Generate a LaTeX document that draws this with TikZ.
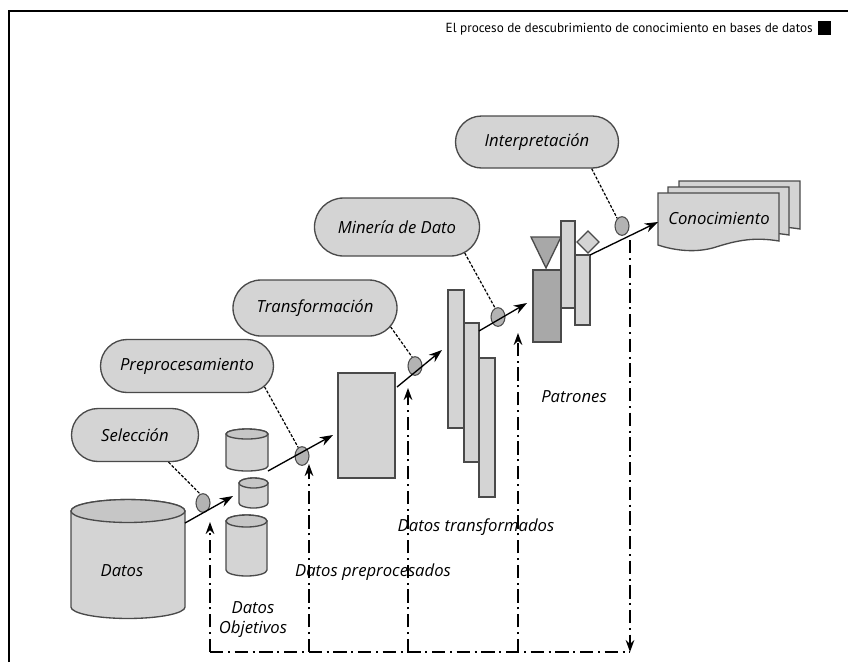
\documentclass[tikz,border=0pt]{standalone}
\usepackage{fontspec}
\setmainfont{Open Sans}
\newfontfamily\headfont{PT Sans}
\usetikzlibrary{arrows.meta,shapes.misc,shapes.geometric,fit}
\definecolor{lightfill}{HTML}{D4D4D4}
\definecolor{topfill}{HTML}{C6C6C6}
\definecolor{midfill}{HTML}{B3B3B3}
\definecolor{darkfill}{HTML}{A8A8A8}
\definecolor{edge}{HTML}{4A4A4A}
\tikzset{
  stage/.style={rounded rectangle, draw=edge, fill=lightfill, line width=1pt,
    font=\itshape\fontsize{12.5}{14}\selectfont, inner sep=0pt},
  probe/.style={ellipse, draw=edge, fill=midfill, line width=0.8pt,
    minimum width=10.5pt, minimum height=14pt, inner sep=0pt},
  block/.style={draw=edge, fill=lightfill, line width=1pt, inner sep=0pt},
  darkblock/.style={block, fill=darkfill},
  flow/.style={-{Stealth[length=10pt,width=7pt]}, line width=1pt, black},
  link/.style={dash pattern=on 2.2pt off 1.2pt, line width=0.9pt, black},
  loopline/.style={line width=1pt, dash pattern=on 10pt off 3.5pt on 1.5pt off 3.5pt},
  loopup/.style={loopline, -{Stealth[length=9pt,width=6.5pt]}},
  caption/.style={font=\itshape\fontsize{12.5}{15}\selectfont, inner sep=0pt},
}
\begin{document}
\begin{tikzpicture}[x=0.75pt,y=-0.75pt]
\useasboundingbox (0,0) rectangle (848,662);

% page frame and running head
\draw[line width=1pt] (9,662) -- (9,11) -- (848,11);
\node[anchor=base east, font=\headfont\fontsize{9.9}{12}\selectfont, inner sep=0pt] (title) at (813,32)
  {El proceso de descubrimiento de conocimiento en bases de datos};
\node[fill=black, minimum width=9.75pt, minimum height=10.5pt, inner sep=0pt, anchor=south west] (mark) at (818,35) {};

% source database
\draw[block] (71,511) -- (71,607) arc[start angle=180,end angle=360,x radius=42.75pt,y radius=8.6pt]
  -- (185,511) arc[start angle=0,end angle=180,x radius=42.75pt,y radius=8.6pt] -- cycle;
\draw[block, fill=topfill] (128,511) ellipse[x radius=42.75pt, y radius=8.6pt];
\node[caption] (datos) at (122,571) {Datos};

% target data drums
\draw[block] (226,434) -- (226,466) arc[start angle=180,end angle=360,x radius=15.75pt,y radius=3.75pt]
  -- (268,434) arc[start angle=0,end angle=180,x radius=15.75pt,y radius=3.75pt] -- cycle;
\draw[block, fill=topfill] (247,434) ellipse[x radius=15.75pt, y radius=3.75pt];
\draw[block] (239,483) -- (239,503) arc[start angle=180,end angle=360,x radius=10.875pt,y radius=3.75pt]
  -- (268,483) arc[start angle=0,end angle=180,x radius=10.875pt,y radius=3.75pt] -- cycle;
\draw[block, fill=topfill] (253.5,483) ellipse[x radius=10.875pt, y radius=3.75pt];
\draw[block] (226,521) -- (226,570) arc[start angle=180,end angle=360,x radius=15.375pt,y radius=4.5pt]
  -- (267,521) arc[start angle=0,end angle=180,x radius=15.375pt,y radius=4.5pt] -- cycle;
\draw[block, fill=topfill] (246.5,521) ellipse[x radius=15.375pt, y radius=4.5pt];

% preprocessed data
\node[block, fit={(338,373) (395,478)}] (prep) {};

% transformed data
\node[block, fit={(448,290) (464,428)}] (tr1) {};
\node[block, fit={(464,323) (479,462)}] (tr2) {};
\node[block, fit={(479,358) (495,497)}] (tr3) {};

% patterns
\node[darkblock, fit={(533,270) (561,342)}] (pat1) {};
\draw[darkblock] (531,237) -- (561,237) -- (546,268) -- cycle;
\node[block, fit={(561,221) (575,308)}] (pat2) {};
\node[block, fit={(575,255) (590,325)}] (pat3) {};
\draw[block] (577,242) -- (588,231) -- (599,242) -- (588,253) -- cycle;

% knowledge: stacked sheets
\foreach \dx/\dy in {21/-12, 10/-6, 0/0} {
  \draw[block, shift={(\dx,\dy)}] (658,193) -- (779,193) -- (779,241)
    .. controls (755,237) and (738,240) .. (716,247)
    .. controls (697,253) and (676,251) .. (658,245) -- cycle;
}
\node[caption] (conoc) at (719,218) {Conocimiento};

% process stages
\node[stage, minimum width=95.25pt, minimum height=39.75pt] (sel) at (135,435) {Selección};
\node[stage, minimum width=129.75pt, minimum height=39.75pt] (pre) at (187,366) {Preprocesamiento};
\node[stage, minimum width=123pt, minimum height=42pt] (trans) at (315,308) {Transformación};
\node[stage, minimum width=123.75pt, minimum height=43.5pt] (mine) at (397,227) {Minería de Dato};
\node[stage, minimum width=122.25pt, minimum height=39pt] (interp) at (537,142) {Interpretación};

% step markers
\node[probe] (e1) at (203,503) {};
\node[probe] (e2) at (302,456) {};
\node[probe] (e3) at (415,366) {};
\node[probe] (e4) at (498,317) {};
\node[probe] (e5) at (622,226) {};

\draw[link] (sel.-39) -- (e1.108);
\draw[link] (pre.-15) -- (e2.114);
\draw[link] (trans.-14) -- (e3.108);
\draw[link] (mine.-21) -- (e4.108);
\draw[link] (interp.-26) -- (e5.122);

% main flow
\coordinate (s1) at (185,523); \coordinate (t1) at (233,496);
\coordinate (s2) at (268,471); \coordinate (t2) at (333,435);
\coordinate (s3) at (397,387); \coordinate (t3) at (442,350);
\coordinate (s4) at (479,331); \coordinate (t4) at (527,303);
\coordinate (s5) at (590,255); \coordinate (t5) at (658,222);
\draw[flow] (s1) -- (t1);
\draw[flow] (s2) -- (t2);
\draw[flow] (s3) -- (t3);
\draw[flow] (s4) -- (t4);
\draw[flow] (s5) -- (t5);

% feedback loop
\coordinate (b1) at (210,652); \coordinate (u1) at (210,522);
\coordinate (b2) at (309,652); \coordinate (u2) at (309,464);
\coordinate (b3) at (408,652); \coordinate (u3) at (408,388);
\coordinate (b4) at (518,652); \coordinate (u4) at (518,333);
\coordinate (b5) at (630,652); \coordinate (d5) at (630,240);
\draw[loopline] (b1) -- (b5);
\draw[loopup] (b1) -- (u1);
\draw[loopup] (b2) -- (u2);
\draw[loopup] (b3) -- (u3);
\draw[loopup] (b4) -- (u4);
\draw[loopup] (d5) -- (b5);

% data captions
\node[caption, align=center] (objetivos) at (253,620) {Datos\\Objetivos};
\node[caption] (preproc) at (373,572) {Datos preprocesados};
\node[caption] (transf) at (476,527) {Datos transformados};
\node[caption] (patrones) at (574,397) {Patrones};
\end{tikzpicture}
\end{document}
